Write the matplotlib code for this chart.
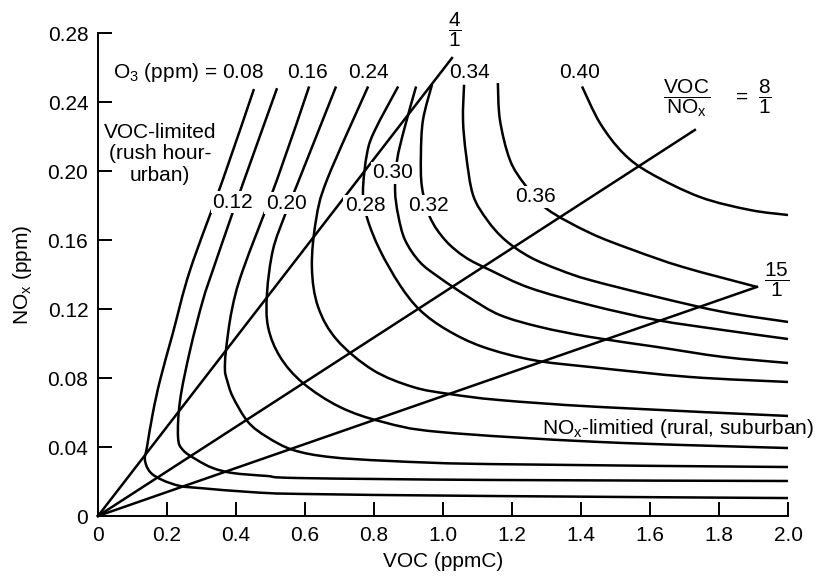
import matplotlib
matplotlib.use('Agg')
import matplotlib.pyplot as plt
from matplotlib.path import Path
from matplotlib.patches import PathPatch

plt.rcParams['font.family'] = ['Liberation Sans', 'DejaVu Sans']
plt.rcParams['mathtext.fontset'] = 'custom'
plt.rcParams['mathtext.rm'] = 'Liberation Sans'
plt.rcParams['mathtext.it'] = 'Liberation Sans:italic'
plt.rcParams['mathtext.default'] = 'regular'

# ozone isopleths, VOC in ppmC and NOx in ppm
voc_08 = [0.452, 0.362, 0.267, 0.217, 0.180, 0.159, 0.142, 0.136, 0.151, 0.186, 0.238, 0.296, 0.441, 0.586, 1.136, 2.0]
nox_08 = [0.2475, 0.195, 0.1426, 0.106, 0.0788, 0.0597, 0.040, 0.0325, 0.0255, 0.0209, 0.0174, 0.0162, 0.0139, 0.0128, 0.0116, 0.0104]

voc_12 = [0.519, 0.417, 0.388, 0.333, 0.304, 0.267, 0.238, 0.232, 0.246, 0.287, 0.333, 0.391, 0.490, 0.586, 1.136, 2.0]
nox_12 = [0.248, 0.191, 0.1745, 0.1426, 0.125, 0.0962, 0.0672, 0.0458, 0.0383, 0.0325, 0.0278, 0.0249, 0.0232, 0.022, 0.0209, 0.0203]

voc_16 = [0.612, 0.519, 0.420, 0.388, 0.371, 0.368, 0.374, 0.391, 0.435, 0.490, 0.565, 0.672, 0.846, 1.136, 2.0]
nox_16 = [0.249, 0.195, 0.1426, 0.1194, 0.0962, 0.0846, 0.0788, 0.069, 0.0545, 0.0458, 0.0383, 0.0342, 0.0319, 0.0301, 0.0284]

voc_20 = [0.690, 0.577, 0.542, 0.507, 0.490, 0.493, 0.528, 0.594, 0.701, 0.826, 0.991, 1.455, 2.0]
nox_20 = [0.249, 0.192, 0.1745, 0.1542, 0.1293, 0.1096, 0.0922, 0.0771, 0.0632, 0.0545, 0.0487, 0.0429, 0.0394]

voc_24 = [0.783, 0.664, 0.632, 0.620, 0.638, 0.693, 0.797, 0.913, 1.020, 1.165, 1.455, 2.0]
nox_24 = [0.249, 0.195, 0.1716, 0.1443, 0.1212, 0.102, 0.0846, 0.0748, 0.0707, 0.0672, 0.0632, 0.058]

voc_28 = [0.870, 0.803, 0.780, 0.768, 0.780, 0.817, 0.875, 0.933, 1.012, 1.116, 1.261, 1.426, 1.716, 2.0]
nox_28 = [0.249, 0.2238, 0.2104, 0.1878, 0.1728, 0.1542, 0.1339, 0.1194, 0.1078, 0.098, 0.0904, 0.0864, 0.0806, 0.0777]

voc_30 = [0.922, 0.887, 0.867, 0.861, 0.870, 0.890, 0.933, 0.991, 1.078, 1.165, 1.281, 1.426, 1.620, 1.812, 2.0]
nox_30 = [0.249, 0.2238, 0.2064, 0.189, 0.1745, 0.160, 0.1472, 0.138, 0.1264, 0.1165, 0.1096, 0.1038, 0.098, 0.0922, 0.0887]

voc_32 = [0.968, 0.942, 0.936, 0.939, 0.962, 1.006, 1.064, 1.136, 1.252, 1.426, 1.620, 1.812, 2.0]
nox_32 = [0.250, 0.2296, 0.2093, 0.1907, 0.1733, 0.160, 0.1501, 0.1426, 0.1322, 0.1223, 0.1136, 0.1078, 0.1026]

voc_34 = [1.061, 1.058, 1.067, 1.087, 1.128, 1.180, 1.252, 1.339, 1.426, 1.620, 1.812, 2.0]
nox_34 = [0.250, 0.2296, 0.2093, 0.1861, 0.1716, 0.160, 0.1501, 0.1426, 0.1368, 0.127, 0.1183, 0.1125]

voc_36 = [1.159, 1.165, 1.194, 1.238, 1.301, 1.426, 1.551, 1.696, 1.910]
nox_36 = [0.251, 0.2296, 0.2064, 0.1919, 0.178, 0.1641, 0.1542, 0.1443, 0.1328]

voc_40 = [1.403, 1.455, 1.522, 1.600, 1.745, 1.890, 2.0]
nox_40 = [0.249, 0.2278, 0.2104, 0.1988, 0.1849, 0.1774, 0.1745]

curves = [(voc_08, nox_08), (voc_12, nox_12), (voc_16, nox_16), (voc_20, nox_20),
          (voc_24, nox_24), (voc_28, nox_28), (voc_30, nox_30), (voc_32, nox_32),
          (voc_34, nox_34), (voc_36, nox_36), (voc_40, nox_40)]

# VOC/NOx ratio lines run from the origin to these end points
ratio_voc = [1.026, 1.730, 1.910]
ratio_nox = [0.2655, 0.2238, 0.1328]

xticks = [0, 0.2, 0.4, 0.6, 0.8, 1.0, 1.2, 1.4, 1.6, 1.8, 2.0]
xticklabels = ['0', '0.2', '0.4', '0.6', '0.8', '1.0', '1.2', '1.4', '1.6', '1.8', '2.0']
yticks = [0, 0.04, 0.08, 0.12, 0.16, 0.20, 0.24, 0.28]
yticklabels = ['0', '0.04', '0.08', '0.12', '0.16', '0.20', '0.24', '0.28']


def smooth_path(xs, ys):
    # bezier path through the read points (catmull-rom tangents)
    pts = list(zip(xs, ys))
    verts = [pts[0]]
    codes = [Path.MOVETO]
    n = len(pts)
    for i in range(n - 1):
        p0 = pts[max(i - 1, 0)]
        p1 = pts[i]
        p2 = pts[i + 1]
        p3 = pts[min(i + 2, n - 1)]
        c1 = (p1[0] + (p2[0] - p0[0]) / 6, p1[1] + (p2[1] - p0[1]) / 6)
        c2 = (p2[0] - (p3[0] - p1[0]) / 6, p2[1] - (p3[1] - p1[1]) / 6)
        verts += [c1, c2, p2]
        codes += [Path.CURVE4] * 3
    return Path(verts, codes)


fig = plt.figure(figsize=(8.2, 5.79), dpi=100)
ax = fig.add_axes([0.1195, 0.1088, 0.8415, 0.8342])

for voc, nox in curves:
    ax.add_patch(PathPatch(smooth_path(voc, nox), facecolor='none', edgecolor='black',
                           lw=1.8, clip_on=False, capstyle='butt'))
for v, n in zip(ratio_voc, ratio_nox):
    ax.plot([0, v], [0, n], color='black', lw=1.8, clip_on=False)

ax.set_xlim(0, 2.0)
ax.set_ylim(0, 0.28)
ax.set_xticks(xticks)
ax.set_xticklabels(xticklabels)
ax.set_yticks(yticks)
ax.set_yticklabels(yticklabels)
ax.tick_params(direction='in', length=10, width=1.4, labelsize=15, pad=7)
for s in ['top', 'right']:
    ax.spines[s].set_visible(False)
for s in ['left', 'bottom']:
    ax.spines[s].set_linewidth(1.4)
ax.set_xlabel('VOC (ppmC)', fontsize=15, labelpad=5)
ax.set_ylabel('NO$_x$ (ppm)', fontsize=15, labelpad=10)

fs = 15
ax.text(0.043, 0.257, 'O$_3$ (ppm) = 0.08', fontsize=fs, ha='left', va='center')
for txt, x in [('0.16', 0.606), ('0.24', 0.783), ('0.34', 1.078), ('0.40', 1.397)]:
    ax.text(x, 0.257, txt, fontsize=fs, ha='center', va='center')

box = dict(facecolor='white', edgecolor='none', pad=1.0)
for txt, x, y in [('0.12', 0.391, 0.182), ('0.20', 0.545, 0.1814), ('0.28', 0.774, 0.180),
                  ('0.30', 0.855, 0.199), ('0.32', 0.957, 0.180), ('0.36', 1.267, 0.185)]:
    ax.text(x, y, txt, fontsize=fs, ha='center', va='center', bbox=box)

ax.text(0.18, 0.210, 'VOC-limited\n(rush hour-\nurban)', fontsize=fs,
        ha='center', va='center', multialignment='center', linespacing=1.15)
ax.text(1.287, 0.051, 'NO$_x$-limitied (rural, suburban)', fontsize=fs,
        ha='left', va='center', clip_on=False)

ax.text(1.035, 0.2817, r'$\dfrac{4}{1}$', fontsize=fs, ha='center', va='center', clip_on=False)
ax.text(1.707, 0.2423, r'$\dfrac{VOC}{NO_x}$', fontsize=fs, ha='center', va='center')
ax.text(1.867, 0.2429, '=', fontsize=fs, ha='center', va='center')
ax.text(1.933, 0.2429, r'$\dfrac{8}{1}$', fontsize=fs, ha='center', va='center')
ax.text(1.968, 0.1368, r'$\dfrac{15}{1}$', fontsize=fs, ha='center', va='center', clip_on=False)

fig.savefig('out.png', dpi=100)
